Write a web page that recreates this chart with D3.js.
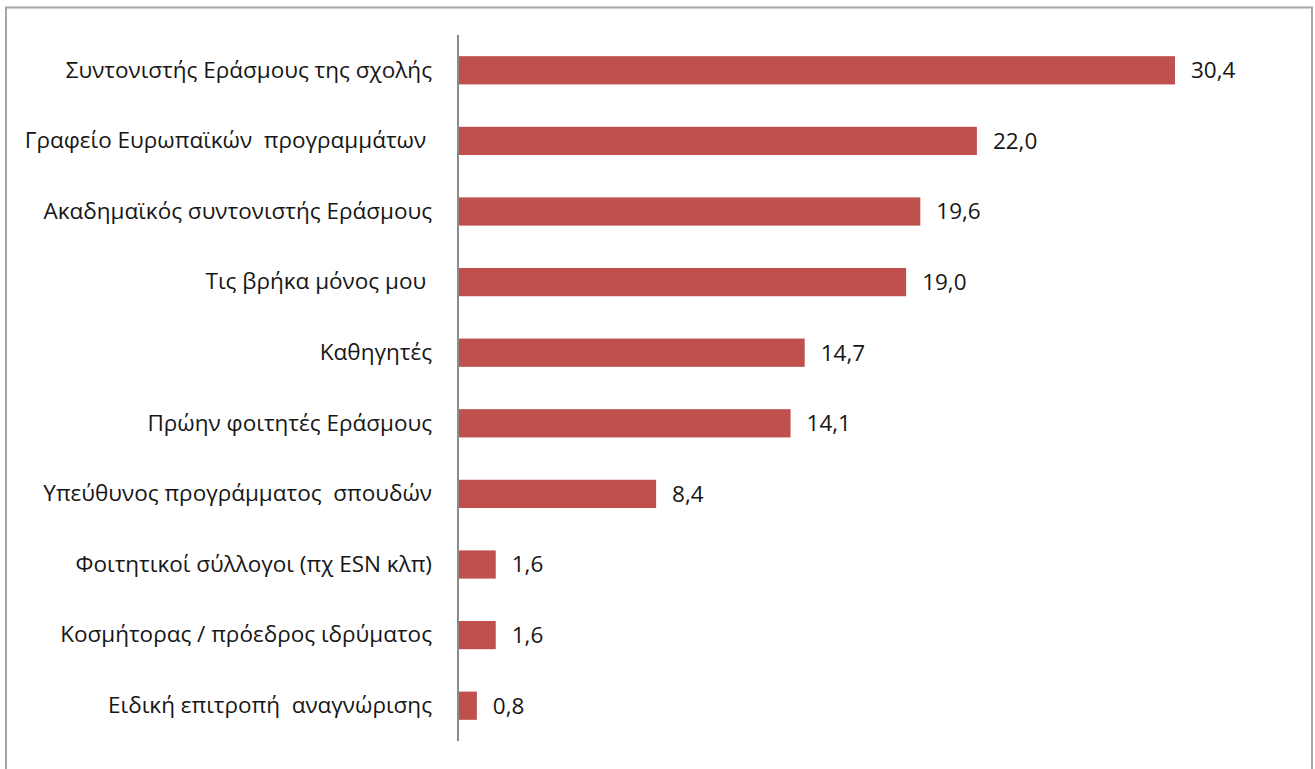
<!DOCTYPE html>
<html>
<head>
<meta charset="utf-8">
<script src="https://cdn.jsdelivr.net/npm/d3@7"></script>
<style>
body{margin:0;background:#fff;}
</style>
</head>
<body>
<div id="chart"></div>
<script>
var categories=['Συντονιστής Εράσμους της σχολής','Γραφείο Ευρωπαϊκών  προγραμμάτων ','Ακαδημαϊκός συντονιστής Εράσμους','Τις βρήκα μόνος μου ','Καθηγητές','Πρώην φοιτητές Εράσμους','Υπεύθυνος προγράμματος  σπουδών','Φοιτητικοί σύλλογοι (πχ ESN κλπ)','Κοσμήτορας / πρόεδρος ιδρύματος','Ειδική επιτροπή  αναγνώρισης'];
var values=[30.4,22.0,19.6,19.0,14.7,14.1,8.4,1.6,1.6,0.8];

var W=1315,H=769,FS=22.5,FONT='"Open Sans", "Noto Sans", sans-serif';
var svg=d3.select('#chart').append('svg').attr('width',W).attr('height',H)
	.style('font-family',FONT);

//外框
svg.append('rect').attr('x',6).attr('y',7.5).attr('width',1306).attr('height',H+10)
	.attr('fill','none').attr('stroke','#a6a6a6').attr('stroke-width',2);

var x0=458;
var x=d3.scaleLinear().domain([0,30.4]).range([x0,1175]);
var y=d3.scaleBand().domain(categories).range([35,741]).paddingInner(0.6).paddingOuter(0.3);

svg.selectAll('rect.bar').data(values).enter().append('rect').attr('class','bar')
	.attr('x',x(0))
	.attr('y',function(d,i){return y(categories[i]);})
	.attr('width',function(d){return x(d)-x(0);})
	.attr('height',y.bandwidth())
	.attr('fill','#c0504d');

svg.selectAll('text.val').data(values).enter().append('text').attr('class','val')
	.attr('x',function(d){return x(d)+16;})
	.attr('y',function(d,i){return y(categories[i])+y.bandwidth()/2;})
	.attr('dy','0.35em')
	.attr('font-size',FS).attr('fill','#161616')
	.text(function(d){return d.toFixed(1).replace('.',',');});

var yAxis=svg.append('g').attr('transform','translate('+x0+',0)')
	.call(d3.axisLeft(y).tickSize(0).tickPadding(26));
yAxis.select('.domain').attr('stroke','#8c8c8c').attr('stroke-width',2)
	.attr('d','M0,35V741');
yAxis.selectAll('text').attr('font-size',FS).attr('fill','#161616')
	.style('font-family',FONT)
	.style('white-space','pre');
</script>
</body>
</html>
